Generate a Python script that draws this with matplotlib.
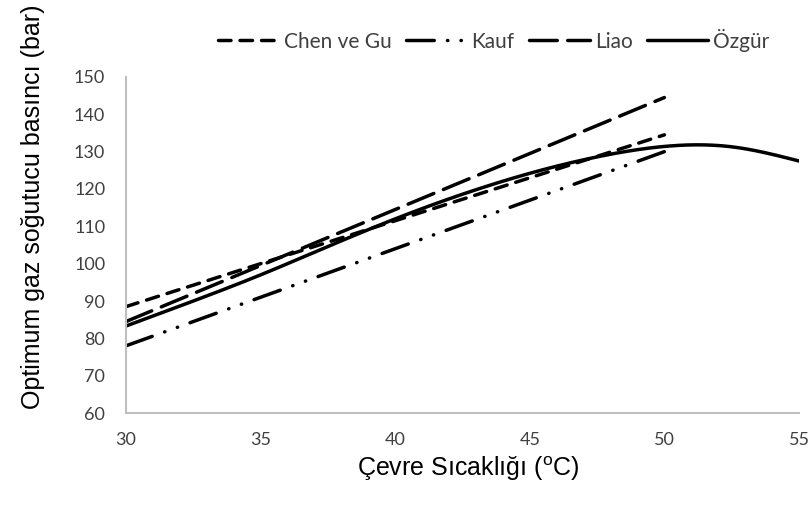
import numpy as np
import matplotlib
matplotlib.use("Agg")
import matplotlib.pyplot as plt

# Data
x_lin = [30, 50]
chen_ve_gu = [88.5, 134.5]
kauf = [78.0, 130.0]
liao = [84.5, 144.5]

x_ozgur = [30, 32.5, 35, 37.5, 40, 42.5, 45, 47.5, 50, 52.5, 55]
ozgur = [83.3, 90.0, 97.0, 104.6, 112.0, 118.6, 124.2, 128.6, 131.4, 131.3, 127.5]

x_ticks = [30, 35, 40, 45, 50, 55]
y_ticks = [60, 70, 80, 90, 100, 110, 120, 130, 140, 150]


def natural_spline(x, y, n=400):
    x = np.asarray(x, float); y = np.asarray(y, float)
    m = len(x)
    h = np.diff(x)
    A = np.zeros((m, m)); b = np.zeros(m)
    A[0, 0] = 1; A[-1, -1] = 1
    for i in range(1, m - 1):
        A[i, i - 1] = h[i - 1]
        A[i, i] = 2 * (h[i - 1] + h[i])
        A[i, i + 1] = h[i]
        b[i] = 3 * ((y[i + 1] - y[i]) / h[i] - (y[i] - y[i - 1]) / h[i - 1])
    c = np.linalg.solve(A, b)
    bb = np.zeros(m - 1); d = np.zeros(m - 1)
    for i in range(m - 1):
        bb[i] = (y[i + 1] - y[i]) / h[i] - h[i] * (2 * c[i] + c[i + 1]) / 3
        d[i] = (c[i + 1] - c[i]) / (3 * h[i])
    xs = np.linspace(x[0], x[-1], n)
    idx = np.clip(np.searchsorted(x, xs) - 1, 0, m - 2)
    dx = xs - x[idx]
    ys = y[idx] + bb[idx] * dx + c[idx] * dx ** 2 + d[idx] * dx ** 3
    return xs, ys


fig = plt.figure(figsize=(8.11, 5.16), dpi=100)
ax = fig.add_axes([0.1554, 0.1996, 0.9852 - 0.1554, 0.8508 - 0.1996])

lw = 2.5
l1, = ax.plot(x_lin, chen_ve_gu, color="black", lw=lw, dashes=(3.6, 2.6),
              dash_capstyle="round", label="Chen ve Gu")
l2, = ax.plot(x_lin, kauf, color="black", lw=lw,
              dashes=(8.0, 3.8, 0.1, 3.8, 0.1, 3.8),
              dash_capstyle="round", label="Kauf")
l3, = ax.plot(x_lin, liao, color="black", lw=lw, dashes=(8.0, 3.0),
              dash_capstyle="round", label="Liao")
xs, ys = natural_spline(x_ozgur, ozgur)
l4, = ax.plot(xs, ys, color="black", lw=lw, solid_capstyle="round", label="Özgür")

ax.set_xlim(30, 55)
ax.set_ylim(60, 150)
ax.set_xticks(x_ticks)
ax.set_yticks(y_ticks)
ax.tick_params(length=0, labelsize=13, colors="#404040")
ax.tick_params(axis="y", pad=15)
ax.tick_params(axis="x", pad=14)
for lab in ax.get_xticklabels() + ax.get_yticklabels():
    lab.set_family("Lato")
for s in ["top", "right"]:
    ax.spines[s].set_visible(False)
for s in ["left", "bottom"]:
    ax.spines[s].set_color("#bfbfbf")
    ax.spines[s].set_linewidth(1.5)

ax.set_xlabel("Çevre Sıcaklığı ($\\mathregular{^o}$C)", fontsize=18,
              family="Liberation Sans")
ax.set_ylabel("Optimum gaz soğutucu basıncı (bar)", fontsize=18,
              family="Liberation Sans")
ax.xaxis.set_label_coords(0.508, -0.122)
ax.yaxis.set_label_coords(-0.12, 0.615)

leg = fig.legend(handles=[l1, l2, l3, l4], loc="center", ncol=4,
                 bbox_to_anchor=(0.6085, 0.922), frameon=False,
                 prop={"family": "Lato", "size": 15},
                 handlelength=2.9, handletextpad=0.25, columnspacing=0.7)
for t in leg.get_texts():
    t.set_color("#404040")

fig.savefig("out.png", dpi=100)
